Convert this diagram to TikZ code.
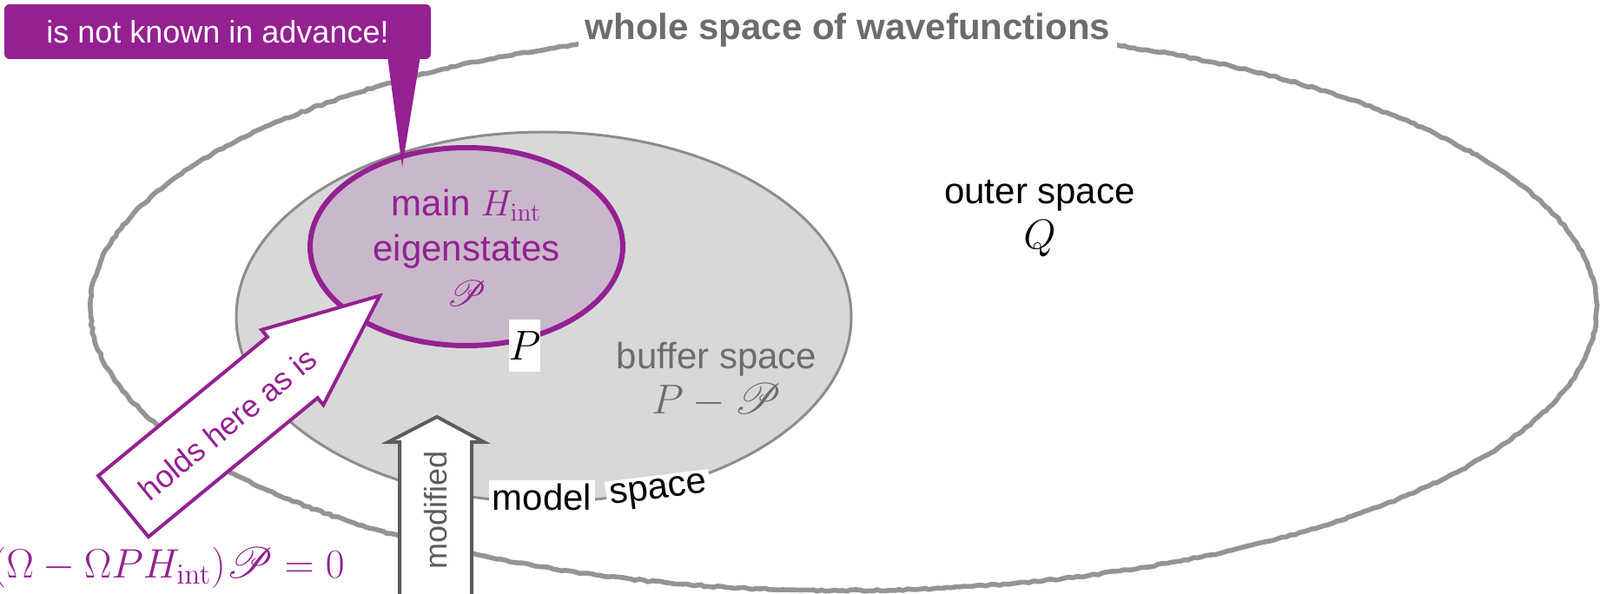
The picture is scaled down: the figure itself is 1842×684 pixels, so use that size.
\RequirePackage{fix-cm}
\documentclass[tikz,border=0pt]{standalone}
\usepackage[no-math]{fontspec}
\setmainfont{Liberation Sans}
\usepackage{mathrsfs}
\usetikzlibrary{decorations.pathmorphing}
\definecolor{modelpurple}{RGB}{148,32,146}
\definecolor{mainfill}{RGB}{201,184,203}
\definecolor{bufferfill}{RGB}{216,216,216}
\definecolor{bufferline}{RGB}{140,140,140}
\definecolor{outerline}{RGB}{148,148,148}
\definecolor{labelgray}{RGB}{108,108,108}
\definecolor{arrowgray}{RGB}{92,92,92}
\tikzset{big/.style={font=\fontsize{21}{26}\selectfont},note/.style={font=\fontsize{18}{22}\selectfont},
 mathlabel/.style={font=\fontsize{24}{28}\selectfont},whitebox/.style={fill=white,inner sep=2pt},
 crayon/.style={outerline,line width=2.8pt,decorate,decoration={random steps,segment length=2.5pt,amplitude=0.5pt}},
 blockarrow/.style={fill=white,line width=2pt,line join=miter}}

\begin{document}
\begin{tikzpicture}[x=0.5pt,y=-0.5pt]
\useasboundingbox (0,0) rectangle (1842,684);
\coordinate (W) at (971,355);
\coordinate (B) at (626,365);
\coordinate (M) at (537,284);
\coordinate (tip) at (463,192);
\draw[crayon] (W) ellipse [x radius=867,y radius=325];
\node[big,whitebox,text=labelgray,inner sep=4pt] (title) at (976,35) {\bfseries whole space of wavefunctions};
\draw[bufferline,fill=bufferfill,line width=1.5pt] (B) ellipse [x radius=354,y radius=213];
\draw[modelpurple,fill=mainfill,line width=3pt] (M) ellipse [x radius=180,y radius=114];
\node[big,modelpurple,align=center] (main) at (537,285) {main $H_{\mathrm{int}}$\\eigenstates\\$\mathscr{P}$};
\node[big,labelgray,align=center] (buffer) at (825,437) {buffer space\\\fontsize{24}{28}\selectfont$P-\mathscr{P}$};
\node[big,align=center] (outer) at (1197,252) {outer space\\\fontsize{24}{28}\selectfont$Q$};
\node[mathlabel,fill=white,inner sep=0pt,minimum width=18pt,minimum height=30pt] (Plabel) at (604,398) {$P$};
\node[note,white,fill=modelpurple,rounded corners=3pt,minimum width=245.5pt,minimum height=31.5pt] (advance) at (250.5,36.5) {is not known in advance!};
\fill[modelpurple] ([xshift=97.75pt,yshift=2pt]advance.south) -- ([xshift=116.75pt,yshift=2pt]advance.south) -- (tip) -- cycle;
\begin{scope}[shift={(142,583)},rotate=39.4]
\draw[modelpurple,blockarrow] (0,-45.5) -- (252,-45.5) -- (252,-56) -- (382,0) -- (252,56) -- (252,45.5) -- (0,45.5) -- cycle;
\node[note,modelpurple,rotate=39.4] (holds) at (153,3) {holds here as is};
\end{scope}
\draw[arrowgray,blockarrow] (460,700) -- (460,509) -- (447,509) -- (503,480) -- (557,509) -- (543,509) -- (543,700) -- cycle;
\node[note,arrowgray,rotate=90] (modified) at (502,587) {modified};
\node[big,whitebox] (model) at (624,572) {model};
\node[big,whitebox,rotate=7] (space) at (758,567) {space};
\node[font=\fontsize{23.7}{28}\selectfont,modelpurple,anchor=base east,inner sep=0pt] (eq) at (397,665) {$(\Omega-\Omega PH_{\mathrm{int}})\mathscr{P}=0$};
\end{tikzpicture}
\end{document}
